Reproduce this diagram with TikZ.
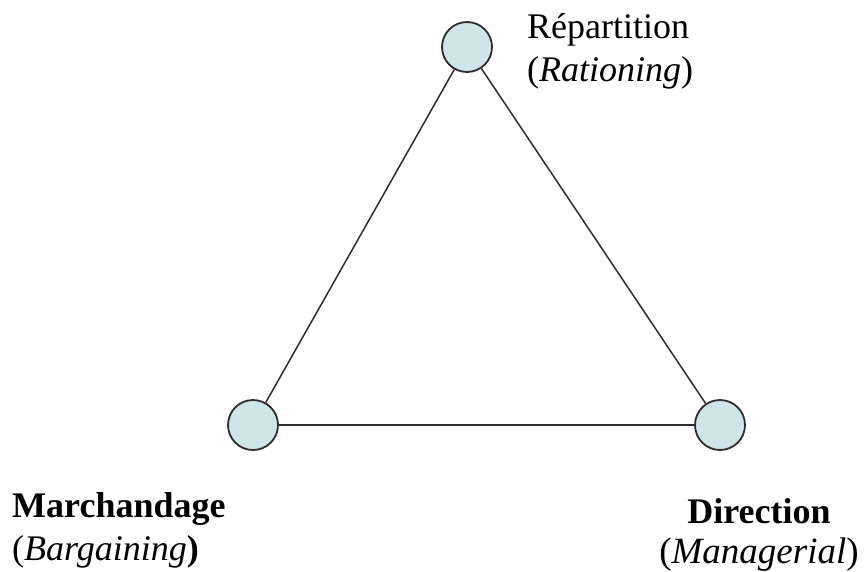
\documentclass[tikz,border=0pt]{standalone}
\usepackage{fontspec}
\setmainfont{Liberation Serif}
\definecolor{nodefill}{RGB}{208,229,233}
\definecolor{nodeline}{RGB}{45,45,45}
\tikzset{
  vertex/.style={circle, draw=nodeline, fill=nodefill, line width=1.8pt, minimum size=50pt, inner sep=0pt},
  edge/.style={draw=nodeline, line width=1.5pt},
  lbl/.style={inner sep=0pt, font=\fontsize{36}{43}\selectfont}
}
\begin{document}
\begin{tikzpicture}[x=1pt,y=-1pt]
\useasboundingbox (0,0) rectangle (866,571);
\node[vertex] (R) at (467,47) {};
\node[vertex] (M) at (253,425) {};
\node[vertex] (D) at (720,425) {};
\draw[edge] (R) -- (M);
\draw[edge] (R) -- (D);
\draw[edge] (M) -- (D);
\node[lbl, anchor=base west, align=left] (Rl) at (527,81) {Répartition\\(\textit{Rationing})};
\node[lbl, anchor=base west, align=left] (Ml) at (12,560) {\textbf{Marchandage}\\(\textit{Bargaining}\textbf{)}};
\node[lbl, anchor=base, align=center, font=\fontsize{36}{40}\selectfont] (Dl) at (759,563) {\textbf{Direction}\\{\fontsize{37}{40}\selectfont(\textit{Managerial})}};
\end{tikzpicture}
\end{document}
